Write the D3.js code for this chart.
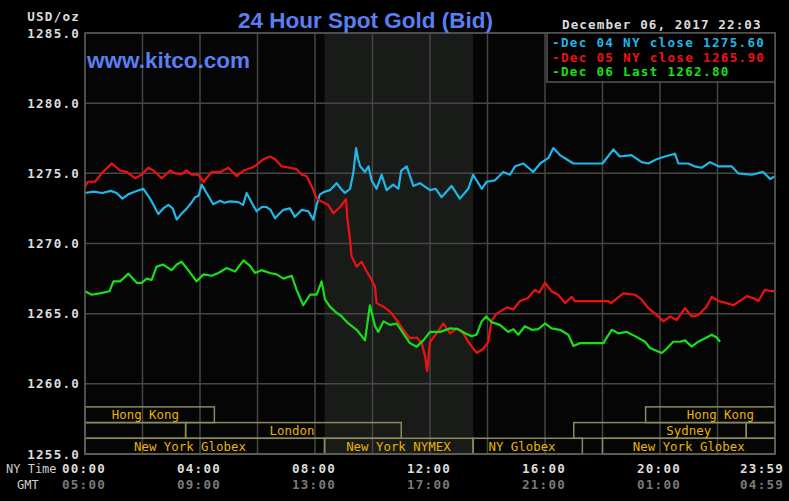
<!DOCTYPE html>
<html>
<head>
<meta charset="utf-8">
<script src="https://cdn.jsdelivr.net/npm/d3@7"></script>
<style>
  body { margin: 0; background: #000; }
  svg { display: block; }
  .mono { font-family: "DejaVu Sans Mono", "Liberation Mono", monospace; }
</style>
</head>
<body>
<div id="chart"></div>
<script>
// Kitco 24 hour spot gold, 6 Dec 2017. Time is NY hours since midnight.

const yTicks = [1255, 1260, 1265, 1270, 1275, 1280, 1285];
const xTicks = [0, 4, 8, 12, 16, 20, 24];
const nyLabels = ['00:00', '04:00', '08:00', '12:00', '16:00', '20:00', '23:59'];
const gmtLabels = ['05:00', '09:00', '13:00', '17:00', '21:00', '01:00', '04:59'];

const seriesNames = ['Dec 04 NY close 1275.60', 'Dec 05 NY close 1265.90', 'Dec 06 Last 1262.80'];
const seriesColors = ['#1fb6e8', '#f01010', '#18e018'];

// COMEX trading window (shaded)
const comexHours = [8 + 20 / 60, 13.5];

// market sessions: [start, end, label, label hour, row]
const sessions = [
  [0, 4.5, 'Hong Kong', 2.1, 0],
  [19.5, 24, 'Hong Kong', 22.1, 0],
  [0, 3.5, '', 0, 1],
  [3.5, 11, 'London', 7.2, 1],
  [17, 23, 'Sydney', 21, 1],
  [23, 24, '', 0, 1],
  [0, 8 + 20 / 60, 'New York Globex', 3.65, 2],
  [8 + 20 / 60, 13.5, 'New York NYMEX', 10.9, 2],
  [13.5, 17.3, 'NY Globex', 15.2, 2],
  [18, 24, 'New York Globex', 21, 2]
];

const dec04 = [
  [0, 1273.6], [0.3, 1273.7], [0.6, 1273.6], [0.9, 1273.75], [1.1, 1273.6], [1.3, 1273.2], [1.5, 1273.5],
  [1.75, 1273.7], [2.03, 1273.9], [2.2, 1273.4], [2.32, 1273.0], [2.55, 1272.1], [2.72, 1272.5], [2.9, 1272.75],
  [3.05, 1272.5], [3.19, 1271.7], [3.35, 1272.1], [3.54, 1272.5], [3.7, 1272.9], [3.83, 1273.3], [3.95, 1273.4],
  [4.06, 1274.2], [4.23, 1273.6], [4.46, 1272.8], [4.7, 1273.05], [4.85, 1272.9], [5.04, 1273.0], [5.33, 1272.95],
  [5.5, 1272.75], [5.62, 1273.6], [5.8, 1272.9], [5.97, 1272.3], [6.15, 1272.6], [6.32, 1272.6], [6.45, 1272.4],
  [6.61, 1271.8], [6.75, 1272.1], [6.9, 1272.4], [7.13, 1272.5], [7.3, 1271.9], [7.54, 1272.4], [7.77, 1272.3],
  [7.94, 1271.7], [8.06, 1272.75], [8.17, 1273.5], [8.35, 1273.7], [8.52, 1273.8], [8.75, 1274.3], [8.9, 1273.9],
  [9.04, 1273.6], [9.22, 1273.9], [9.33, 1275.0], [9.43, 1276.8], [9.5, 1276.0], [9.57, 1275.5], [9.74, 1275.1],
  [9.86, 1275.5], [9.97, 1274.5], [10.14, 1273.9], [10.32, 1274.9], [10.49, 1273.8], [10.72, 1274.2], [10.9, 1273.9],
  [11.0, 1275.2], [11.19, 1275.5], [11.42, 1274.1], [11.65, 1274.3], [12.0, 1273.8], [12.2, 1273.9], [12.4, 1273.3],
  [12.75, 1274.1], [13.04, 1273.2], [13.33, 1273.9], [13.5, 1274.9], [13.8, 1273.9], [13.97, 1274.4], [14.26, 1274.5],
  [14.55, 1275.1], [14.78, 1274.9], [14.96, 1275.5], [15.25, 1275.7], [15.59, 1275.1], [15.83, 1275.7], [16.12, 1276.1],
  [16.29, 1276.8], [16.52, 1276.3], [16.75, 1276.0], [16.99, 1275.7], [18.0, 1275.7], [18.38, 1276.7], [18.6, 1276.2],
  [19.01, 1276.3], [19.36, 1275.8], [19.59, 1275.7], [19.88, 1276.0], [20.17, 1276.2], [20.52, 1276.4], [20.64, 1275.7],
  [20.98, 1275.7], [21.2, 1275.5], [21.45, 1275.4], [21.74, 1275.8], [22.03, 1275.5], [22.49, 1275.5], [22.72, 1275.0],
  [23.19, 1274.9], [23.59, 1275.1], [23.83, 1274.6], [24, 1274.8]
];

const dec05 = [
  [0, 1274.05], [0.1, 1274.4], [0.35, 1274.4], [0.58, 1275.0], [0.93, 1275.7], [1.22, 1275.2], [1.45, 1275.1],
  [1.74, 1274.65], [1.97, 1274.9], [2.2, 1275.4], [2.38, 1275.2], [2.67, 1274.65], [2.96, 1275.2], [3.13, 1275.0],
  [3.36, 1274.95], [3.54, 1275.2], [3.71, 1274.9], [3.94, 1274.9], [4.12, 1274.4], [4.41, 1275.1], [4.7, 1275.1],
  [4.99, 1275.4], [5.28, 1274.8], [5.51, 1275.2], [5.8, 1275.4], [5.97, 1275.6], [6.2, 1276.0], [6.43, 1276.2],
  [6.61, 1276.0], [6.84, 1275.5], [7.13, 1275.4], [7.36, 1275.3], [7.54, 1274.9], [7.71, 1274.8], [7.89, 1274.05],
  [8.06, 1273.2], [8.23, 1273.0], [8.46, 1272.75], [8.64, 1272.15], [8.87, 1272.6], [9.08, 1273.15], [9.12, 1271.9],
  [9.22, 1270.25], [9.27, 1269.1], [9.45, 1268.35], [9.62, 1268.7], [9.8, 1268.0], [9.97, 1267.4], [10.09, 1266.9],
  [10.14, 1265.75], [10.38, 1265.5], [10.61, 1265.15], [10.84, 1264.55], [11.07, 1263.85], [11.3, 1263.25],
  [11.54, 1263.3], [11.71, 1262.9], [11.83, 1261.95], [11.9, 1260.9], [12.0, 1263.0], [12.23, 1263.6], [12.46, 1264.3],
  [12.7, 1263.6], [12.93, 1263.95], [13.16, 1263.6], [13.33, 1263.0], [13.62, 1262.2], [13.86, 1262.5], [14.03, 1263.0],
  [14.14, 1264.5], [14.32, 1265.0], [14.67, 1265.45], [14.9, 1265.3], [15.13, 1265.9], [15.4, 1266.1], [15.65, 1266.7],
  [15.8, 1266.5], [16.0, 1267.2], [16.23, 1266.6], [16.46, 1266.35], [16.7, 1265.75], [16.93, 1266.2], [17.04, 1265.9],
  [18.2, 1265.9], [18.3, 1265.75], [18.72, 1266.45], [19.13, 1266.35], [19.36, 1266.0], [19.59, 1265.4], [19.83, 1265.0],
  [20.12, 1264.45], [20.35, 1264.8], [20.58, 1264.55], [20.87, 1265.4], [21.1, 1264.8], [21.33, 1264.9], [21.62, 1265.5],
  [21.8, 1266.2], [22.03, 1265.9], [22.32, 1265.75], [22.55, 1265.6], [22.78, 1265.9], [23.02, 1266.25], [23.25, 1266.1],
  [23.42, 1265.9], [23.65, 1266.7], [23.88, 1266.6], [24, 1266.6]
];

const dec06 = [
  [0, 1266.6], [0.23, 1266.35], [0.52, 1266.45], [0.85, 1266.6], [0.99, 1267.3], [1.22, 1267.3], [1.51, 1267.85],
  [1.8, 1267.2], [1.97, 1267.2], [2.15, 1267.5], [2.32, 1267.4], [2.49, 1268.35], [2.72, 1268.5], [3.01, 1268.1],
  [3.19, 1268.5], [3.36, 1268.7], [3.59, 1268.1], [3.88, 1267.3], [4.12, 1267.8], [4.41, 1267.7], [4.64, 1267.9],
  [4.93, 1268.25], [5.22, 1268.0], [5.51, 1268.8], [5.74, 1268.4], [5.91, 1267.9], [6.14, 1268.1], [6.43, 1267.9],
  [6.67, 1267.8], [6.9, 1267.5], [7.19, 1267.7], [7.36, 1266.7], [7.59, 1265.6], [7.83, 1266.35], [8.06, 1266.35],
  [8.23, 1267.3], [8.35, 1266.0], [8.52, 1265.5], [8.7, 1265.15], [8.93, 1264.8], [9.16, 1264.3], [9.45, 1263.85],
  [9.74, 1263.1], [9.91, 1265.6], [10.09, 1264.1], [10.2, 1263.7], [10.38, 1264.45], [10.61, 1264.2], [10.84, 1264.3],
  [11.07, 1263.6], [11.3, 1262.9], [11.54, 1262.65], [11.77, 1263.1], [12.0, 1263.7], [12.35, 1263.7], [12.7, 1263.95],
  [12.98, 1263.9], [13.22, 1263.6], [13.45, 1263.4], [13.62, 1263.5], [13.8, 1264.45], [13.95, 1264.8], [14.14, 1264.4],
  [14.43, 1264.2], [14.72, 1263.7], [14.9, 1263.9], [15.07, 1263.5], [15.3, 1264.1], [15.54, 1263.85], [15.77, 1263.9],
  [16.0, 1264.3], [16.23, 1263.95], [16.52, 1263.85], [16.81, 1263.5], [16.99, 1262.7], [17.22, 1262.9], [18.03, 1262.9],
  [18.32, 1263.85], [18.55, 1263.6], [18.84, 1263.7], [19.13, 1263.4], [19.48, 1263.0], [19.65, 1262.55], [20.06, 1262.2],
  [20.23, 1262.5], [20.46, 1263.0], [20.7, 1263.0], [20.87, 1263.1], [21.1, 1262.65], [21.33, 1263.0], [21.57, 1263.25],
  [21.8, 1263.5], [21.97, 1263.3], [22.09, 1263.0]
];

const allSeries = [dec04, dec05, dec06];

/*
 * Setup
 */
const width = 789, height = 501;
const plotL = 85, plotR = 775, plotT = 33, plotB = 454;

const svg = d3.select('#chart').append('svg')
  .attr('width', width)
  .attr('height', height)
  .style('background', '#000');

const x = d3.scaleLinear().domain([0, 24]).range([plotL, plotR]);
const y = d3.scaleLinear().domain([1255, 1285]).range([plotB, plotT]);

// plot background + COMEX shading
svg.append('rect')
  .attr('x', plotL).attr('y', plotT)
  .attr('width', plotR - plotL).attr('height', plotB - plotT)
  .attr('fill', '#050505');
svg.append('rect')
  .attr('x', x(comexHours[0])).attr('y', plotT)
  .attr('width', x(comexHours[1]) - x(comexHours[0]))
  .attr('height', plotB - plotT)
  .attr('fill', '#191b19');

// grid
const grid = svg.append('g').attr('stroke', '#464646').attr('stroke-width', 1.5);
grid.selectAll('.vline')
  .data(d3.range(0, 25, 2))
  .enter().append('line')
  .attr('x1', (d) => x(d)).attr('x2', (d) => x(d))
  .attr('y1', plotT).attr('y2', plotB);
grid.selectAll('.hline')
  .data(yTicks)
  .enter().append('line')
  .attr('x1', plotL).attr('x2', plotR)
  .attr('y1', (d) => y(d)).attr('y2', (d) => y(d));

// session boxes
const rowH = (plotB - plotT) / 26.8;
const rowTop = (r) => plotB - (3 - r) * rowH;
const sess = svg.append('g');
sess.selectAll('rect')
  .data(sessions)
  .enter().append('rect')
  .attr('x', (d) => x(d[0]))
  .attr('y', (d) => rowTop(d[4]))
  .attr('width', (d) => x(d[1]) - x(d[0]))
  .attr('height', rowH)
  .attr('fill', 'none')
  .attr('stroke', '#8c8a5c')
  .attr('stroke-width', 1.5);
sess.selectAll('text')
  .data(sessions.filter((d) => d[2] !== ''))
  .enter().append('text')
  .attr('class', 'mono')
  .attr('x', (d) => x(d[3]))
  .attr('y', (d) => rowTop(d[4]) + rowH / 2 + 4.5)
  .attr('text-anchor', 'middle')
  .attr('fill', '#e8b400')
  .style('font-size', '12.4px')
  .text((d) => d[2]);

// price lines
const line = d3.line()
  .x((d) => x(d[0]))
  .y((d) => y(d[1]));

svg.append('g').selectAll('path')
  .data(allSeries)
  .enter().append('path')
  .attr('d', line)
  .attr('fill', 'none')
  .attr('stroke', (d, i) => seriesColors[i])
  .attr('stroke-width', 2.2)
  .attr('stroke-linejoin', 'round');

// frame
svg.append('rect')
  .attr('x', plotL).attr('y', plotT)
  .attr('width', plotR - plotL).attr('height', plotB - plotT)
  .attr('fill', 'none')
  .attr('stroke', '#555')
  .attr('stroke-width', 1.5);

/*
 * Texts
 */
const txt = (sel) => sel.attr('class', 'mono')
  .style('font-size', '12.6px')
  .style('font-weight', 'bold')
  .style('letter-spacing', '1.2px');

// y axis labels
svg.append('g').selectAll('text')
  .data(yTicks)
  .enter().append('text')
  .call(txt)
  .attr('x', 80)
  .attr('y', (d) => y(d) + 4.5)
  .attr('text-anchor', 'end')
  .attr('fill', '#dcdcdc')
  .text((d) => d3.format('.1f')(d));

svg.append('text').call(txt)
  .attr('x', 80).attr('y', 21)
  .attr('text-anchor', 'end')
  .attr('fill', '#dcdcdc')
  .text('USD/oz');

// x axis labels
const xl = svg.append('g');
xl.selectAll('.ny')
  .data(xTicks)
  .enter().append('text')
  .call(txt)
  .attr('x', (d, i) => i === xTicks.length - 1 ? x(d) + 9 : x(d) - 1)
  .attr('y', 473)
  .attr('text-anchor', (d, i) => i === xTicks.length - 1 ? 'end' : 'middle')
  .attr('fill', '#dcdcdc')
  .text((d, i) => nyLabels[i]);
xl.selectAll('.gmt')
  .data(xTicks)
  .enter().append('text')
  .call(txt)
  .attr('x', (d, i) => i === xTicks.length - 1 ? x(d) + 9 : x(d) - 1)
  .attr('y', 489)
  .attr('text-anchor', (d, i) => i === xTicks.length - 1 ? 'end' : 'middle')
  .attr('fill', '#7a7a7a')
  .text((d, i) => gmtLabels[i]);

svg.append('text')
  .attr('class', 'mono')
  .attr('x', 6).attr('y', 473)
  .attr('fill', '#cfcfcf')
  .style('font-size', '12px')
  .text('NY Time');
svg.append('text')
  .attr('class', 'mono')
  .attr('x', 17).attr('y', 489)
  .attr('fill', '#cfcfcf')
  .style('font-size', '12px')
  .text('GMT');

// titles
svg.append('text')
  .attr('x', 238).attr('y', 28)
  .attr('fill', '#5a7ff0')
  .style('font-family', '"Liberation Sans", Arial, sans-serif')
  .style('font-weight', 'bold')
  .style('font-size', '22.5px')
  .text('24 Hour Spot Gold (Bid)');

svg.append('text')
  .attr('x', 87).attr('y', 68)
  .attr('fill', '#5a7ff0')
  .style('font-family', '"Liberation Sans", Arial, sans-serif')
  .style('font-weight', 'bold')
  .style('font-size', '22.5px')
  .text('www.kitco.com');

svg.append('text').call(txt)
  .style('letter-spacing', '1.1px')
  .attr('x', 562).attr('y', 29)
  .attr('fill', '#dcdcdc')
  .text('December 06, 2017 22:03');

// legend
svg.append('rect')
  .attr('x', 547).attr('y', plotT)
  .attr('width', plotR - 547).attr('height', 49)
  .attr('fill', '#000')
  .attr('stroke', '#555')
  .attr('stroke-width', 1.5);

svg.append('g').selectAll('text')
  .data(seriesNames)
  .enter().append('text')
  .call(txt)
  .style('letter-spacing', '1.3px')
  .attr('x', 552)
  .attr('y', (d, i) => 47 + i * 14.7)
  .attr('fill', (d, i) => seriesColors[i])
  .text((d) => '-' + d);
</script>
</body>
</html>
